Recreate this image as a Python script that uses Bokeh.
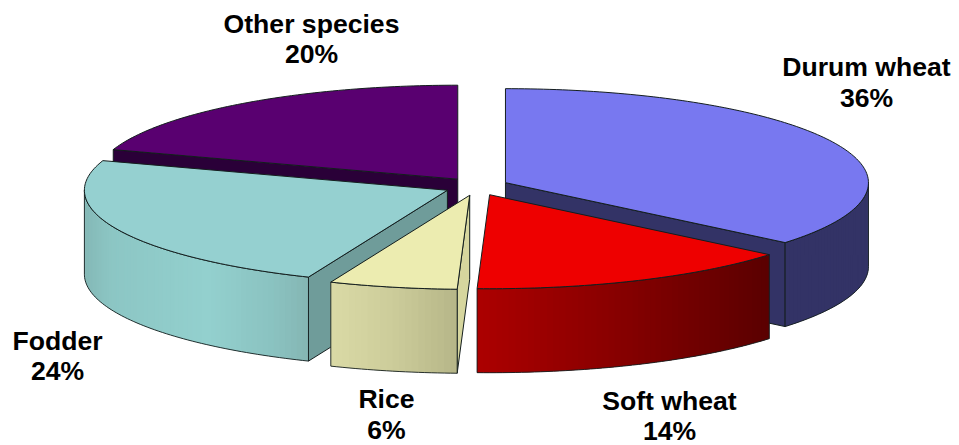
import math
from bokeh.plotting import figure
from bokeh.models import Range1d
from bokeh.core.properties import value
from bokeh.embed import file_html
from bokeh.resources import INLINE

# ---- data (shares of the whole, %)
categories = ["Durum wheat", "Soft wheat", "Rice", "Fodder", "Other species"]
shares = [36.0, 14.55, 5.7, 23.85, 19.9]
share_labels = ["36%", "14%", "6%", "24%", "20%"]

# ---- styles
top_colors = ["#7878F0", "#EE0000", "#ECECB0", "#95D0D0", "#590070"]
cut_colors = ["#333366", "#A80000", "#D6D69E", "#6F9C9A", "#2A0038"]
wall_stops = [
    [(0, "#333366"), (1, "#333366")],
    [(0, "#AC0000"), (0.45, "#8A0000"), (1, "#5A0000")],
    [(0, "#DADAA6"), (0.5, "#CCCC9A"), (1, "#B6B688")],
    [(0, "#84B8B6"), (0.12, "#8CC6C4"), (0.55, "#93D0CE"), (0.85, "#8AC2C0"), (1, "#85B6B3")],
    [(0, "#2A0038"), (1, "#2A0038")],
]
edge = "#141E1E"

# ---- projection of the tilted pie, in page pixels
CX, CY, RX, RY, DEPTH = 476.0, 186.0, 363.0, 94.0, 84.0
EXPLODE_X, EXPLODE_Y = 32.0, 9.0

label_x = [866, 669, 386, 57, 311]
label_y1 = [66, 400, 398, 340, 23]
label_y2 = [97, 430, 429, 370, 53]
FONT_PX = "26.6px"

p = figure(width=959, height=445, output_backend="svg", toolbar_location=None,
           x_range=Range1d(0, 959), y_range=Range1d(445, 0),
           min_border=0, outline_line_color=None, background_fill_color="white")
p.axis.visible = False
p.grid.visible = False


def lerp_color(stops, f):
    f = max(0.0, min(1.0, f))
    for (a, ca), (b, cb) in zip(stops, stops[1:]):
        if f <= b:
            u = (f - a) / (b - a) if b > a else 0
            ch = [round(int(ca[i:i + 2], 16) * (1 - u) + int(cb[i:i + 2], 16) * u) for i in (1, 3, 5)]
            return "#%02X%02X%02X" % tuple(ch)
    return stops[-1][1]


# angles clockwise from 12 o'clock
angles = []
acc = 0.0
for s in shares:
    angles.append((acc, acc + s * 3.6))
    acc += s * 3.6


def apex(i):
    mid = math.radians(sum(angles[i]) / 2)
    return CX + EXPLODE_X * math.sin(mid), CY - EXPLODE_Y * math.cos(mid)


def rim(i, deg):
    ax, ay = apex(i)
    t = math.radians(deg)
    return ax + RX * math.sin(t), ay - RY * math.cos(t)


def arc(i, a, b, step=1.0):
    n = max(2, int(abs(b - a) / step) + 1)
    return [rim(i, a + (b - a) * k / (n - 1)) for k in range(n)]


def draw_poly(pts, fill, line=edge, lw=1.0):
    p.patch([q[0] for q in pts], [q[1] for q in pts], fill_color=fill,
            line_color=line, line_width=lw, line_join="round")


def down(pts):
    return [(x, y + DEPTH) for x, y in pts]


def draw_wedge(i, faces):
    a, b = angles[i]
    ax, ay = apex(i)
    # radial cut faces
    for deg in faces:
        r = rim(i, deg)
        draw_poly([(ax, ay), r, (r[0], r[1] + DEPTH), (ax, ay + DEPTH)], cut_colors[i])
    # outer wall (front half only), in overlapping slices shaded across x
    w0, w1 = max(a, 90.0), min(b, 270.0)
    if w1 > w0:
        pts = arc(i, w0, w1)
        xs = [q[0] for q in pts]
        xmin, xmax = min(xs), max(xs)
        for k in range(len(pts) - 1):
            span = pts[k:k + 3]
            f = ((pts[k][0] + pts[k + 1][0]) / 2 - xmin) / (xmax - xmin)
            c = lerp_color(wall_stops[i], f)
            draw_poly(span + down(span)[::-1], c, line=None)
        outline = pts + down(pts)[::-1]
        outline = outline + outline[:1]
        p.line([q[0] for q in outline], [q[1] for q in outline],
               line_color=edge, line_width=1.0, line_alpha=0.9)
    # top
    draw_poly([(ax, ay)] + arc(i, a, b), top_colors[i])


# painter's order, back to front
draw_wedge(4, [angles[4][0]])           # Other species
draw_wedge(0, [angles[0][1]])           # Durum wheat
draw_wedge(3, [angles[3][0]])           # Fodder
draw_wedge(2, [angles[2][0]])           # Rice
draw_wedge(1, [])                       # Soft wheat

p.text(label_x, label_y1, text=categories, text_font=value("Liberation Sans"),
       text_font_style="bold", text_font_size=FONT_PX, text_color="black",
       text_align="center", text_baseline="middle")
p.text(label_x, label_y2, text=share_labels, text_font=value("Liberation Sans"),
       text_font_style="bold", text_font_size=FONT_PX, text_color="black",
       text_align="center", text_baseline="middle")

open("out.html", "w").write(file_html(p, INLINE))
